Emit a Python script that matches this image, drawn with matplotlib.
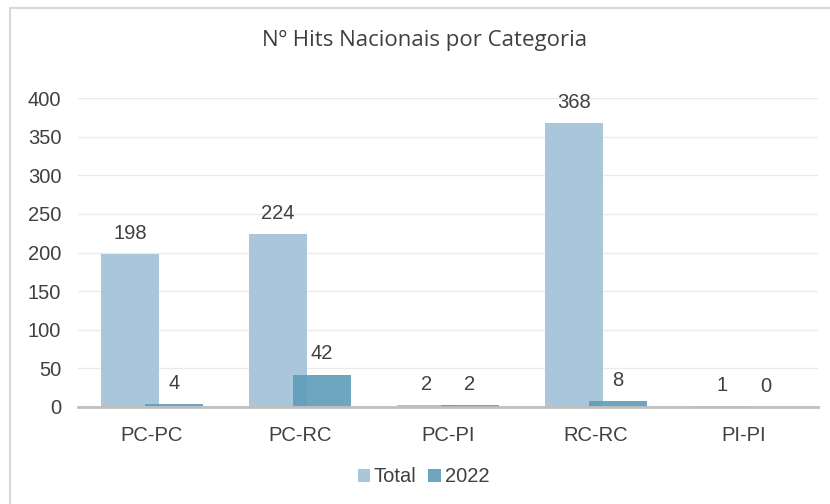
import numpy as np
import matplotlib.pyplot as plt
from matplotlib.patches import Rectangle

categories = ['PC-PC', 'PC-RC', 'PC-PI', 'RC-RC', 'PI-PI']
total = [198, 224, 2, 368, 1]
y2022 = [4, 42, 2, 8, 0]

c_total = '#A9C6DA'
c_2022 = '#5E9DB9'
txt = '#404040'

fig = plt.figure(figsize=(8.3, 5.04), dpi=100)
ax = fig.add_axes([78/830, 97/504, 740/830, 309/504])

x = np.arange(len(categories))
w = 0.39
off = 0.147
b1 = ax.bar(x - off, total, w, color=c_total, label='Total', zorder=2)
b2 = ax.bar(x + off, y2022, w, color=c_2022, alpha=0.9, label='2022', zorder=3)

# value labels above each bar
for bars in (b1, b2):
    for b in bars:
        ax.annotate(str(int(b.get_height())), (b.get_x() + b.get_width()/2, b.get_height()),
                    xytext=(0, 8), textcoords='offset points', ha='center', va='bottom',
                    fontsize=14.5, color=txt, family='Liberation Sans')

ax.set_xlim(-0.5, 4.5)
ax.set_ylim(0, 400)
ax.set_yticks(range(0, 401, 50))
ax.set_xticks(x)
ax.set_xticklabels(categories)
ax.grid(axis='y', color='#EBEBEB', linewidth=1, zorder=0)
ax.tick_params(length=0, labelsize=14.5, labelcolor=txt)
ax.tick_params(axis='x', pad=14)
ax.tick_params(axis='y', pad=12)
for lbl in ax.get_xticklabels() + ax.get_yticklabels():
    lbl.set_family('Liberation Sans')
for s in ['top', 'right', 'left']:
    ax.spines[s].set_visible(False)
ax.spines['bottom'].set_color('#BFBFBF')
ax.spines['bottom'].set_linewidth(2)
ax.spines['bottom'].set_zorder(4)

fig.text(0.511, 1 - 40/504, 'Nº Hits Nacionais por Categoria', ha='center', va='center',
         fontsize=16, color=txt, family='Open Sans')

leg = fig.legend(loc='center', bbox_to_anchor=(0.51, 1 - 477/504), ncol=2, frameon=False,
                 handlelength=0.6, handleheight=0.6, handletextpad=0.2,
                 columnspacing=0.6, prop={'family': 'Liberation Sans', 'size': 14.5})
for t in leg.get_texts():
    t.set_color(txt)

# outer chart border
fig.patches.append(Rectangle((10/830, -0.05), 1.0, 1 - 8/504 + 0.05, transform=fig.transFigure,
                             fill=False, edgecolor='#D9D9D9', linewidth=1.5))

fig.savefig('out.png', dpi=100)
